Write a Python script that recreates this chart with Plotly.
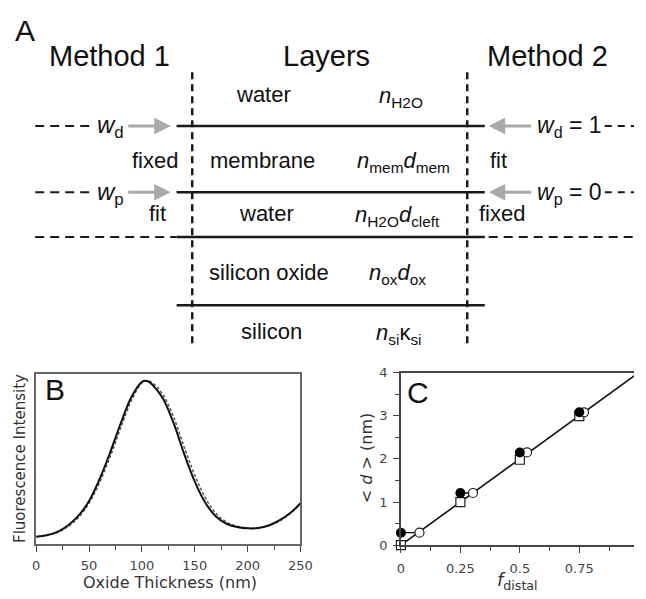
import plotly.graph_objects as go

W, H = 646, 599

# ---------------- Panel B data ----------------
thickness = [0, 10, 20, 30, 40, 50, 60, 70, 80, 90, 100, 105, 110, 120, 130, 140,
             150, 160, 170, 180, 190, 200, 210, 220, 230, 240, 250]
intensity_fit = [0.044, 0.053, 0.072, 0.110, 0.167, 0.253, 0.382, 0.538, 0.709, 0.861,
                 0.951, 0.957, 0.934, 0.852, 0.709, 0.529, 0.367, 0.243, 0.162, 0.120,
                 0.101, 0.093, 0.095, 0.110, 0.139, 0.181, 0.240]
intensity_model = [0.044, 0.052, 0.068, 0.103, 0.157, 0.240, 0.362, 0.513, 0.683, 0.840,
                   0.945, 0.958, 0.945, 0.875, 0.745, 0.570, 0.405, 0.272, 0.180, 0.130,
                   0.105, 0.095, 0.095, 0.108, 0.135, 0.178, 0.235]
b_xticks = [0, 50, 100, 150, 200, 250]

# ---------------- Panel C data ----------------
f_distal = [0, 0.25, 0.5, 0.75]
d_method1 = [0.29, 1.21, 2.15, 3.08]
f_method2 = [0.078, 0.303, 0.53, 0.77]
d_true = [0.0, 1.0, 1.98, 2.99]
fit_f = [0, 1]
fit_d = [0, 4]
c_xtickvals = [0, 0.25, 0.5, 0.75, 1]
c_xticktext = ["0", "0.25", "0.5", "0.75", "1"]
c_ytickvals = [0, 1, 2, 3, 4]

# ---------------- Panel A diagram content ----------------
headers = ["Method 1", "Layers", "Method 2"]
header_x = [108, 331, 557]
layer_names = ["water", "membrane", "water", "silicon oxide", "silicon"]
layer_params = ["<i>n</i><sub>H2O</sub>",
                "<i>n</i><sub>mem</sub><i>d</i><sub>mem</sub>",
                "<i>n</i><sub>H2O</sub><i>d</i><sub>cleft</sub>",
                "<i>n</i><sub>ox</sub><i>d</i><sub>ox</sub>",
                "<i>n</i><sub>si</sub>κ<sub>si</sub>"]
layer_y = [90, 157, 212, 272, 333]
layer_name_x = [266, 265, 269, 272, 274]
layer_param_x = [407, 410, 404, 404, 405]
boundary_y = [122, 190, 236, 306]

FA = "Liberation Sans, Arial, sans-serif"
FB = "DejaVu Sans, Verdana, sans-serif"


def px(x):
    return x / W


def py(y):
    return 1 - y / H


def ann(x, y, text, size, xanchor="center", family=FA, color="#111", angle=0):
    return dict(x=px(x), y=py(y), xref="paper", yref="paper", text=text,
                showarrow=False, xanchor=xanchor, yanchor="middle", textangle=angle,
                borderpad=0, font=dict(family=family, size=size, color=color))


def line(x0, y0, x1, y1, width=2.5, dash="solid", color="#1a1a1a"):
    return dict(type="line", xref="paper", yref="paper",
                x0=px(x0), y0=py(y0), x1=px(x1), y1=py(y1),
                line=dict(color=color, width=width, dash=dash))


def arrow(xhead, y, dx):
    return dict(x=px(xhead), y=py(y), xref="paper", yref="paper", text="",
                showarrow=True, ax=dx, ay=0, axref="pixel", ayref="pixel",
                arrowhead=2, arrowsize=1.1, arrowwidth=3, arrowcolor="#a9a9a9",
                standoff=0, startstandoff=0)


fig = go.Figure()

# Panel B traces
fig.add_trace(go.Scatter(x=thickness, y=intensity_model, mode="lines",
                         line=dict(color="#555", width=1.5, dash="3px,2px", shape="spline"),
                         xaxis="x", yaxis="y", showlegend=False))
fig.add_trace(go.Scatter(x=thickness, y=intensity_fit, mode="lines",
                         line=dict(color="#111", width=2, shape="spline"),
                         xaxis="x", yaxis="y", showlegend=False))

# Panel C traces
fig.add_trace(go.Scatter(x=fit_f, y=fit_d, mode="lines",
                         line=dict(color="#111", width=1.6),
                         xaxis="x2", yaxis="y2", showlegend=False))
conn_x, conn_y = [], []
for a, b, d in zip(f_distal, f_method2, d_method1):
    conn_x += [a, b, None]
    conn_y += [d, d, None]
fig.add_trace(go.Scatter(x=conn_x, y=conn_y, mode="lines",
                         line=dict(color="#111", width=1.4),
                         xaxis="x2", yaxis="y2", showlegend=False, cliponaxis=False))
fig.add_trace(go.Scatter(x=f_distal, y=d_true, mode="markers",
                         marker=dict(symbol="square", size=9, color="white",
                                     line=dict(color="#222", width=1.2)),
                         xaxis="x2", yaxis="y2", showlegend=False, cliponaxis=False))
fig.add_trace(go.Scatter(x=f_method2, y=d_method1, mode="markers",
                         marker=dict(symbol="circle", size=9, color="white",
                                     line=dict(color="#222", width=1.2)),
                         xaxis="x2", yaxis="y2", showlegend=False, cliponaxis=False))
fig.add_trace(go.Scatter(x=f_distal, y=d_method1, mode="markers",
                         marker=dict(symbol="circle", size=10, color="#000",
                                     line=dict(color="#000", width=0)),
                         xaxis="x2", yaxis="y2", showlegend=False, cliponaxis=False))

tickfont = dict(family=FB, size=13, color="#444")

fig.update_layout(
    width=W, height=H, margin=dict(l=0, r=0, t=0, b=0),
    paper_bgcolor="white", plot_bgcolor="white",
    xaxis=dict(domain=[px(33), px(304)], range=[0, 250], showline=True, mirror=True,
               linecolor="#666", linewidth=1.5, ticks="outside", ticklen=6,
               tickcolor="#444", tickwidth=1.3, tickvals=b_xticks,
               minor=dict(dtick=25, ticks="outside", ticklen=4, tickcolor="#444"),
               tickfont=tickfont, showgrid=False, zeroline=False, ticklabelstandoff=2),
    yaxis=dict(domain=[py(551), py(376)], range=[0, 1], showline=True, mirror=True,
               linecolor="#666", linewidth=1.5, showticklabels=False, ticks="",
               showgrid=False, zeroline=False),
    xaxis2=dict(domain=[px(407), 1.0], range=[0, 0.98], anchor="y2", showline=True,
                mirror=True, linecolor="#444", linewidth=1.5, ticks="outside", ticklen=6,
                tickcolor="#444", tickwidth=1.3, tickvals=c_xtickvals, ticktext=c_xticktext,
                minor=dict(dtick=0.125, ticks="outside", ticklen=4, tickcolor="#444"),
                tickfont=tickfont, showgrid=False, zeroline=False, ticklabelstandoff=4),
    yaxis2=dict(domain=[py(552), py(375)], range=[0, 4], anchor="x2", showline=True,
                linecolor="#444", linewidth=1.5, ticks="outside", ticklen=6,
                tickcolor="#444", tickwidth=1.3, tickvals=c_ytickvals,
                minor=dict(dtick=0.5, ticks="outside", ticklen=4, tickcolor="#444"),
                tickfont=tickfont, showgrid=False, zeroline=False, ticklabelstandoff=3),
)

shapes = []
# vertical dashed separators
shapes.append(line(193, 67, 193, 346, width=2.5, dash="7px,5px"))
shapes.append(line(475, 67, 475, 346, width=2.5, dash="7px,5px"))
# layer boundaries
for y in boundary_y:
    shapes.append(line(177, y, 493, y, width=2.5))
# left dashed leaders
shapes.append(line(32, boundary_y[0], 90, boundary_y[0], width=2, dash="9px,6px"))
shapes.append(line(32, boundary_y[1], 90, boundary_y[1], width=2, dash="9px,6px"))
shapes.append(line(32, boundary_y[2], 177, boundary_y[2], width=2, dash="9px,6px"))
# right dashed leaders
shapes.append(line(616, boundary_y[0], W, boundary_y[0], width=2, dash="7px,6px"))
shapes.append(line(616, boundary_y[1], W, boundary_y[1], width=2, dash="7px,6px"))
shapes.append(line(497, boundary_y[2], W, boundary_y[2], width=2, dash="9px,6px"))
fig.update_layout(shapes=shapes)

anns = []
anns.append(ann(22, 24, "A", 30))
for t, x in zip(headers, header_x):
    anns.append(ann(x, 50, t, 29))
for name, nx, par, qx, y in zip(layer_names, layer_name_x, layer_params, layer_param_x, layer_y):
    anns.append(ann(nx, y, name, 22))
    anns.append(ann(qx, y + 2, par, 22))
# method labels
anns.append(ann(109, boundary_y[0] + 1, "<i>w</i><sub>d</sub>", 24))
anns.append(ann(109, boundary_y[1] + 1, "<i>w</i><sub>p</sub>", 24))
anns.append(ann(179, 157, "fixed", 22, xanchor="right"))
anns.append(ann(167, 212, "fit", 22, xanchor="right"))
anns.append(ann(546, boundary_y[0] + 1, "<i>w</i><sub>d</sub> = 1", 23, xanchor="left"))
anns.append(ann(546, boundary_y[1] + 1, "<i>w</i><sub>p</sub> = 0", 23, xanchor="left"))
anns.append(ann(497, 157, "fit", 22, xanchor="left"))
anns.append(ann(486, 212, "fixed", 22, xanchor="left"))
# arrows
anns.append(arrow(171, boundary_y[0], -44))
anns.append(arrow(171, boundary_y[1], -44))
anns.append(arrow(497, boundary_y[0], 44))
anns.append(arrow(497, boundary_y[1], 44))
# panel B/C letters and titles
anns.append(ann(52, 392, "B", 30))
anns.append(ann(425, 395, "C", 30))
anns.append(ann(170, 590, "Oxide Thickness (nm)", 16, family=FB, color="#333"))
anns.append(ann(17, 463, "Fluorescence Intensity", 15, family=FB, color="#333", angle=-90))
anns.append(ann(372, 463, "< <i>d</i> > (nm)", 16, family=FB, color="#333", angle=-90))
anns.append(ann(527, 589, "<i>f</i><sub>distal</sub>", 18, family=FB, color="#333"))
fig.update_layout(annotations=anns)

fig.write_html("out.html")
